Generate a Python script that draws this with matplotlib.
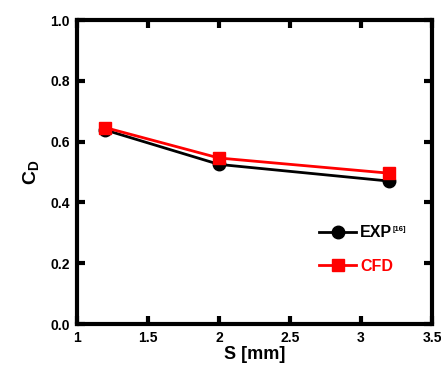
import matplotlib
matplotlib.use("Agg")
import matplotlib.pyplot as plt

plt.rcParams["font.family"] = ["Liberation Sans", "DejaVu Sans"]
plt.rcParams["font.weight"] = "bold"
plt.rcParams["mathtext.fontset"] = "custom"
plt.rcParams["mathtext.rm"] = "Liberation Sans:bold"
plt.rcParams["mathtext.bf"] = "Liberation Sans:bold"

s_mm = [1.2, 2.0, 3.2]
cd_exp = [0.638, 0.525, 0.470]
cd_cfd = [0.646, 0.546, 0.496]

x_ticks = [1, 1.5, 2, 2.5, 3, 3.5]
x_tick_labels = ["1", "1.5", "2", "2.5", "3", "3.5"]
y_ticks = [0.0, 0.2, 0.4, 0.6, 0.8, 1.0]

fig = plt.figure(figsize=(4.41, 3.65), dpi=100)
ax = fig.add_axes([77 / 441, 1 - 324 / 365, (432 - 77) / 441, (324 - 20) / 365])

ax.plot(s_mm, cd_exp, color="black", lw=2, marker="o", ms=9, label="EXP")
ax.plot(s_mm, cd_cfd, color="red", lw=2, marker="s", ms=8, label="CFD")

ax.set_xlim(1, 3.5)
ax.set_ylim(0, 1.0)
ax.set_xticks(x_ticks)
ax.set_xticklabels(x_tick_labels)
ax.set_yticks(y_ticks)
ax.set_yticklabels([f"{v:.1f}" for v in y_ticks])
ax.tick_params(direction="in", length=6, width=3, top=True, right=True, labelsize=10, pad=5)
for sp in ax.spines.values():
    sp.set_linewidth(3)

ax.set_xlabel("S [mm]", fontsize=13, fontweight="bold", labelpad=1)
ax.set_ylabel(r"C$_{\mathrm{D}}$", fontsize=14, fontweight="bold", labelpad=6)

leg = ax.legend(loc="center left", bbox_to_anchor=(0.66, 0.245), frameon=False,
                fontsize=11.5, handlelength=2.3, handletextpad=0.25, labelspacing=1.15,
                borderpad=0)
for txt, line in zip(leg.get_texts(), leg.get_lines()):
    txt.set_color(line.get_color())

# small superscript reference mark after EXP
fig.canvas.draw()
bb = leg.get_texts()[0].get_window_extent()
fx, fy = fig.transFigure.inverted().transform((bb.x1 + 0.5, bb.y1 - 1))
fig.text(fx, fy, "[16]", fontsize=5.5, fontweight="bold", ha="left", va="top")

fig.savefig("out.png", dpi=100)
